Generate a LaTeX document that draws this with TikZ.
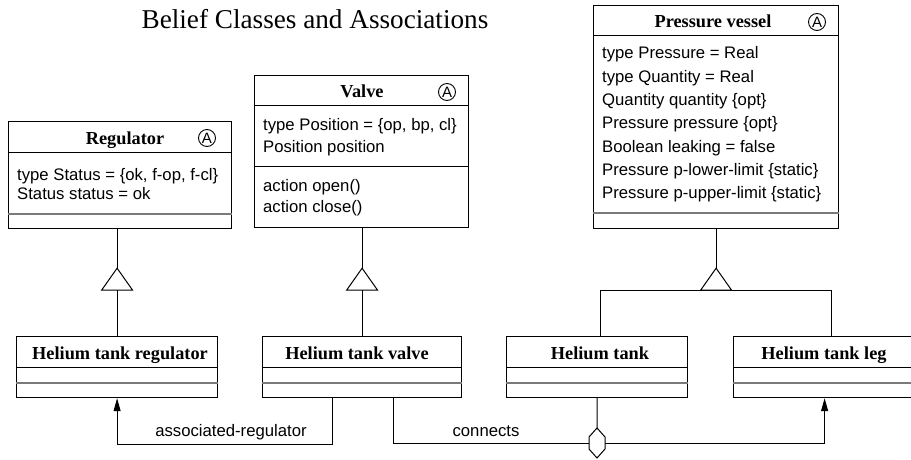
\documentclass[tikz,border=0pt]{standalone}
\usepackage{fontspec}
\setmainfont{Liberation Serif}
\setsansfont{Liberation Sans}
\usetikzlibrary{arrows.meta,calc}
\definecolor{sepgray}{HTML}{7A7A7A}
\tikzset{
  heading/.style={font=\fontsize{27.2}{31}\selectfont,anchor=base,inner sep=0pt},
  classname/.style={font=\bfseries\fontsize{18.3}{22}\selectfont,anchor=base,inner sep=0pt},
  attr/.style={font=\sffamily\fontsize{16.7}{20}\selectfont,anchor=base west,inner sep=0pt},
  assoclabel/.style={font=\sffamily\fontsize{16.7}{20}\selectfont,anchor=base,inner sep=0pt},
  abstractmark/.style={circle,draw,line width=0.9pt,inner sep=0pt,minimum size=17pt,font=\sffamily\fontsize{15}{15}\selectfont},
  classbox/.style={draw,line width=1.2pt,anchor=north west,inner sep=0pt},
  compart/.style={line width=1pt},
  grayline/.style={draw=sepgray,line width=1.8pt},
  link/.style={draw,line width=1pt},
  navarr/.style={-{Triangle[length=13pt,width=7pt]}},
  inherit/.pic={\draw[link,fill=white] (0,0) -- (15.5,22) -- (-15.5,22) -- cycle;}
}

\begin{document}
\begin{tikzpicture}[x=1pt,y=-1pt]
\path[use as bounding box] (0,0) rectangle (911,460);
\node[heading] (title) at (315,29) {Belief Classes and Associations};
% abstract classes
\node[classbox,minimum width=223pt,minimum height=107pt] (reg) at (8,121) {};
\node[classbox,minimum width=214pt,minimum height=152pt] (valve) at (254,75) {};
\node[classbox,minimum width=245pt,minimum height=223pt] (pv) at (593,5) {};
\node[classname] (regname) at (125,144) {Regulator};
\node[classname] (valvename) at (362,98) {Valve};
\node[classname] (pvname) at (713,28) {Pressure vessel};
\node[abstractmark] (regA) at (207,138) {A};
\node[abstractmark] (valveA) at (447,92) {A};
\node[abstractmark] (pvA) at (817,22) {A};
\foreach \y/\t in {180/{type Status = \{ok, f-op, f-cl\}},199/{Status status = ok}}{\node[attr] (reg-\y) at (17,\y) {\t};}
\foreach \y/\t in {131/{type Position = \{op, bp, cl\}},152.5/{Position position},191/{action open()},212.5/{action close()}}{\node[attr] (valve-\y) at (263,\y) {\t};}
\foreach \y/\t in {59/{type Pressure = Real},82.5/{type Quantity = Real},106/{Quantity quantity \{opt\}},128.5/{Pressure pressure \{opt\}},152/{Boolean leaking = false},175/{Pressure p-lower-limit \{static\}},198/{Pressure p-upper-limit \{static\}}}{\node[attr] (pv-\y) at (602,\y) {\t};}
% helium tank classes
\node[classbox,minimum width=201pt,minimum height=61pt] (hreg) at (16,336) {};
\node[classbox,minimum width=199pt,minimum height=61pt] (hvalve) at (262,336) {};
\node[classbox,minimum width=181pt,minimum height=61pt] (htank) at (506,336) {};
\node[classbox,minimum width=182pt,minimum height=61pt] (hleg) at (733,336) {};
\node[classname] (hregname) at (120,359) {Helium tank regulator};
\node[classname] (hvalvename) at (357,359) {Helium tank valve};
\node[classname] (htankname) at (600,359) {Helium tank};
\node[classname] (hlegname) at (824,359) {Helium tank leg};
% compartments
\foreach \b in {reg,valve,pv,hreg,hvalve,htank,hleg}{\draw[compart] ([yshift=-31pt]\b.north west) -- ([yshift=-31pt]\b.north east);}
\draw[compart] ([yshift=-91pt]valve.north west) -- ([yshift=-91pt]valve.north east);
\foreach \b/\d in {reg/15,pv/16,hreg/15,hvalve/15,htank/15,hleg/15}{\draw[grayline] ([yshift=\d pt]\b.south west) -- ([yshift=\d pt]\b.south east);}
% generalisation
\draw[link] (reg.south -| hreg.north) -- (hreg.north);
\pic at ($(reg.south -| hreg.north)+(0,39)$) {inherit};
\draw[link] (valve.south -| hvalve.north) -- (hvalve.north);
\pic at ($(valve.south -| hvalve.north)+(0,40)$) {inherit};
\coordinate (pvbar) at ($(pv.south)+(0,61)$);
\draw[link] (pv.south) -- (pvbar);
\draw[link] ([xshift=3.5pt]htank.north) |- (pvbar) -| ([xshift=7pt]hleg.north);
\pic at ($(pv.south)+(0,39)$) {inherit};
% associations
\coordinate (agg) at (597,443);
\draw[link,navarr] ([xshift=-29.5pt]hvalve.south) -- ++(0,46) -| (hreg.south);
\node[assoclabel] (assocreg) at (231,436) {associated-regulator};
\draw[link] ([xshift=31.5pt]hvalve.south) |- ([xshift=-8pt]agg);
\draw[link] (htank.south) -- ([yshift=15pt]agg);
\draw[link,navarr] ([xshift=8pt]agg) -| (hleg.south);
\draw[link,fill=white] (agg) ++(0,-15) -- ++(8,9) -- ++(0,12) -- ++(-8,9) -- ++(-8,-9) -- ++(0,-12) -- cycle;
\node[assoclabel] (connects) at (486,436) {connects};
\end{tikzpicture}
\end{document}
